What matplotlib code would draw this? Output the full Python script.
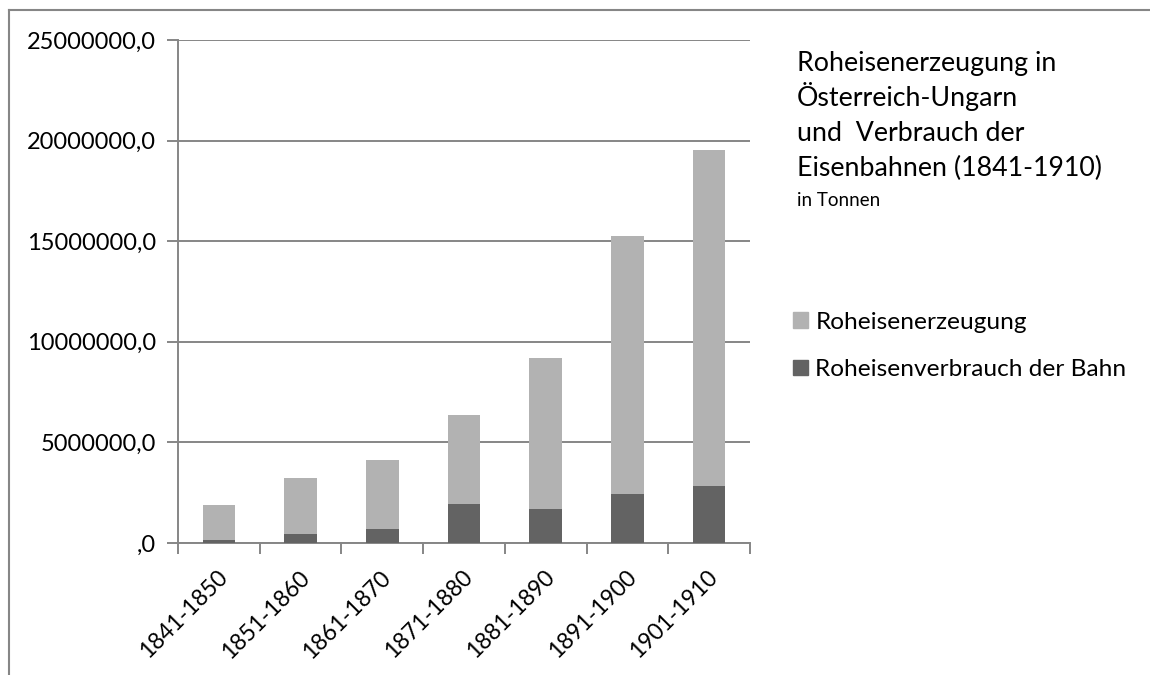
import matplotlib.pyplot as plt
import numpy as np
from matplotlib.lines import Line2D
from matplotlib.patches import Patch
from matplotlib.ticker import FuncFormatter
from matplotlib.transforms import ScaledTranslation

plt.rcParams["font.family"] = ["Lato", "DejaVu Sans"]

decades = ["1841-1850", "1851-1860", "1861-1870", "1871-1880",
           "1881-1890", "1891-1900", "1901-1910"]
erzeugung = [1870000, 3220000, 4150000, 6380000, 9190000, 15260000, 19540000]
verbrauch_bahn = [170000, 430000, 700000, 1920000, 1680000, 2430000, 2820000]
title_lines = ["Roheisenerzeugung in", "Österreich-Ungarn",
               "und  Verbrauch der", "Eisenbahnen (1841-1910)"]

LIGHT = "#b2b2b2"
DARK = "#636363"
AXIS = "#868686"
W, H = 1150, 675

fig = plt.figure(figsize=(11.5, 6.75), dpi=100)

# outer chart frame (top and left edge visible)
fig.add_artist(Line2D([9 / W, 1.0], [1 - 10 / H] * 2, color=AXIS, lw=1.5,
                      transform=fig.transFigure))
fig.add_artist(Line2D([9 / W] * 2, [0.0, 1 - 10 / H], color=AXIS, lw=1.5,
                      transform=fig.transFigure))

ax = fig.add_axes([178 / W, 132 / H, 572 / W, 503 / H])

x = np.arange(len(decades))
ax.bar(x, erzeugung, width=0.4, color=LIGHT, zorder=2)
ax.bar(x, verbrauch_bahn, width=0.4, color=DARK, zorder=3)

ax.set_xlim(-0.5, len(decades) - 0.5)
ax.set_ylim(0, 25000000)
ax.set_yticks(np.arange(0, 25000001, 5000000))
ax.yaxis.set_major_formatter(FuncFormatter(
    lambda v, p: ",0" if v == 0 else f"{int(v)},0"))
ax.grid(axis="y", color=AXIS, lw=1.4, zorder=0)

# category boundary ticks, labels centred under the bars
ax.set_xticks(np.arange(-0.5, len(decades), 1.0))
ax.set_xticklabels([])
ax.set_xticks(x, minor=True)
ax.set_xticklabels(decades, minor=True, rotation=45, ha="right",
                   rotation_mode="anchor", fontsize=16.5)
ax.tick_params(axis="x", which="minor", length=0, pad=17)
ax.tick_params(axis="x", which="major", length=8, width=1.4, color=AXIS)
ax.tick_params(axis="y", length=8, width=1.4, color=AXIS, labelsize=17, pad=8)
shift = ScaledTranslation(-0.02, 0, fig.dpi_scale_trans)
for lab in ax.get_xticklabels(minor=True):
    lab.set_transform(lab.get_transform() + shift)

for side in ["top", "right"]:
    ax.spines[side].set_visible(False)
for side in ["left", "bottom"]:
    ax.spines[side].set_color(AXIS)
    ax.spines[side].set_linewidth(1.4)

for i, line in enumerate(title_lines):
    fig.text(797 / W, 1 - (71 + 35 * i) / H, line, fontsize=19.3,
             va="baseline", ha="left")
fig.text(797 / W, 1 - 206 / H, "in Tonnen", fontsize=13.5, va="baseline", ha="left")

handles = [Patch(color=LIGHT), Patch(color=DARK)]
fig.legend(handles, ["Roheisenerzeugung", "Roheisenverbrauch der Bahn"],
           loc="center left", bbox_to_anchor=(793 / W, 1 - 346 / H),
           frameon=False, fontsize=17.6, handlelength=0.62, handleheight=0.62,
           handletextpad=0.3, labelspacing=1.07, borderpad=0, borderaxespad=0)

fig.savefig("out.png", dpi=100)
